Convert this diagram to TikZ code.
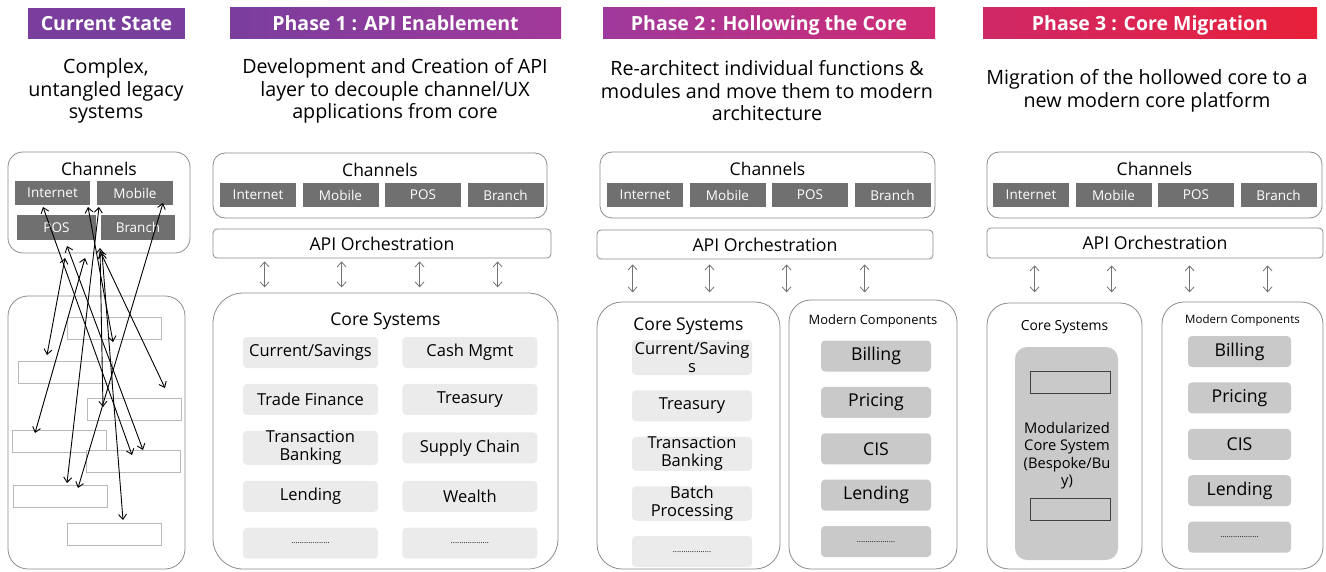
\documentclass[tikz,border=0pt]{standalone}
\usepackage{fontspec}
\setmainfont{Open Sans}
\usepackage{xcolor}
\usetikzlibrary{positioning, arrows.meta}
\definecolor{chgray}{HTML}{707070}
\definecolor{modlight}{HTML}{EBEBEB}
\definecolor{moddark}{HTML}{C9C9C9}
\definecolor{edge}{HTML}{8C8C8C}
\definecolor{purpleA}{HTML}{7A3E9D}
\definecolor{purpleB}{HTML}{A2399A}
\definecolor{magentaA}{HTML}{9E3A9D}
\definecolor{magentaB}{HTML}{D12A72}
\definecolor{redA}{HTML}{CF2866}
\definecolor{redB}{HTML}{E8203A}
\tikzstyle{phasebar} = [rectangle, text=white, font=\bfseries\fontsize{19.5}{22}\selectfont, minimum height=31pt, text height=17pt, text depth=2pt, inner sep=0pt]
\tikzstyle{blurb} = [align=center, font=\fontsize{19.7}{22.5}\selectfont, inner sep=0pt]
\tikzstyle{panel} = [rectangle, draw=edge, line width=0.8pt, rounded corners=12pt, inner sep=0pt]
\tikzstyle{chanbtn} = [rectangle, fill=chgray, text=white, font=\fontsize{13.5}{15}\selectfont, minimum width=76pt, minimum height=24pt, inner sep=0pt]

\begin{document}
\begin{tikzpicture}[
    x=1pt, y=-1pt,
    lbl/.style={font=\fontsize{17.5}{20}\selectfont, inner sep=0pt},
    smalllbl/.style={font=\fontsize{12.9}{15}\selectfont, inner sep=0pt},
    apibar/.style={rectangle, draw=edge, line width=0.8pt, rounded corners=4pt, font=\fontsize{17.7}{20}\selectfont},
    module/.style={rectangle, fill=modlight, rounded corners=4pt, minimum width=135pt, minimum height=31pt, align=center, inner sep=0pt, font=\fontsize{16.5}{18}\selectfont},
    modern/.style={rectangle, fill=moddark, rounded corners=4pt, minimum width=110pt, minimum height=31pt, align=center, inner sep=0pt, font=\fontsize{17.7}{20}\selectfont},
    legacy/.style={rectangle, draw=gray!55, fill=white, line width=1pt, minimum width=94pt, minimum height=22pt},
    tangle/.style={<->, >={Straight Barb[length=5pt,width=8pt]}, line width=0.9pt, black},
    updown/.style={<->, >={Straight Barb[length=5pt,width=9pt]}, draw=gray!90!black, line width=0.8pt}
]
    \useasboundingbox (0,0) rectangle (1326,572);

    % Phase headers
    \node[phasebar, fill=purpleA, minimum width=157pt] (hdr0) at (106.5,23.5) {Current State};
    \node[phasebar, left color=purpleA, right color=purpleB, minimum width=331pt] (hdr1) at (395.5,23.5) {Phase 1 : API Enablement};
    \node[phasebar, left color=magentaA, right color=magentaB, minimum width=332pt] (hdr2) at (769,23.5) {Phase 2 : Hollowing the Core};
    \node[phasebar, left color=redA, right color=redB, minimum width=334pt] (hdr3) at (1150,23.5) {Phase 3 : Core Migration};

    % Short description under each header
    \node[blurb] (txt0) at (106,91) {Complex,\\untangled legacy\\systems};
    \node[blurb] (txt1) at (395,91) {Development and Creation of API\\layer to decouple channel/UX\\applications from core};
    \node[blurb] (txt2) at (767,91) {Re-architect individual functions \&\\modules and move them to modern\\architecture};
    \node[blurb] (txt3) at (1147,91) {Migration of the hollowed core to a\\new modern core platform};

    % ---- Current state: tangled legacy ----
    \node[panel, rounded corners=15pt, minimum width=182pt, minimum height=101pt] (chan0) at (99,202.5) {};
    \node[lbl] at ([yshift=-17pt]chan0.north) {Channels};
    \node[chanbtn, minimum width=75pt] (inet0) at (52.5,193) {Internet};
    \node[chanbtn] (mob0) at (135,193) {Mobile};
    \node[chanbtn, minimum width=79pt, minimum height=25pt] (pos0) at (56.5,227.5) {POS};
    \node[chanbtn, minimum width=74pt, minimum height=25pt] (branch0) at (138,227.5) {Branch};

    \node[panel, rounded corners=20pt, minimum width=177pt, minimum height=273pt] (old0) at (96.5,432.5) {};
    \node[legacy] (leg1) at (114.5,328.5) {};
    \node[legacy] (leg2) at (65.5,372) {};
    \node[legacy] (leg3) at (134,409) {};
    \node[legacy] (leg4) at (59.5,441) {};
    \node[legacy] (leg5) at (133,461.5) {};
    \node[legacy] (leg6) at (60.5,496) {};
    \node[legacy] (leg7) at (114.5,534) {};

    % ends of the spaghetti links
    \coordinate (u1) at (43,207);
    \coordinate (u2) at (88,207);
    \coordinate (u3) at (99,207);
    \coordinate (u4) at (163,203);
    \coordinate (u5) at (67,246);
    \coordinate (u6) at (65,258);
    \coordinate (u7) at (85,258);
    \coordinate (u8) at (100,248);
    \coordinate (u9) at (100,251);
    \coordinate (u10) at (102,253);
    \coordinate (d1) at (132,455);
    \coordinate (d2) at (113,342);
    \coordinate (d3) at (67,483);
    \coordinate (d4) at (78,488);
    \coordinate (d5) at (143,450);
    \coordinate (d6) at (47,355);
    \coordinate (d7) at (35,433);
    \coordinate (d8) at (103,407);
    \coordinate (d9) at (165,388);
    \coordinate (d10) at (123,520);
    \foreach \i in {1,...,10}
        \draw[tangle] (u\i) -- (d\i);

    % ---- Phase 1 ----
    \node[panel, minimum width=334pt, minimum height=65pt] (chan1) at (380,185.5) {};
    \node[lbl] at ([yshift=-17pt]chan1.north) {Channels};
    \foreach \ch [count=\i from 0] in {Internet,Mobile,POS,Branch}
        \node[chanbtn] (p1ch\i) at (258+\i*82.5,195) {\ch};
    \node[apibar, minimum width=338pt, minimum height=29pt] (api1) at (382,243.5) {API Orchestration};
    \foreach \d in {52,129,207,285}
        \draw[updown] ([xshift=\d pt, yshift=-3pt]api1.south west) -- ++(0,26);

    \node[panel, rounded corners=30pt, minimum width=345pt, minimum height=276pt] (core1) at (385.5,431) {};
    \node[lbl] at ([yshift=-29pt]core1.north) {Core Systems};
    \node[module] (cs1) at (310.5,352.5) {Current/Savings};
    \node[module, below=15.5pt of cs1] (cs2) {Trade Finance};
    \node[module, below=15.5pt of cs2] (cs3) {Transaction\\Banking};
    \node[module, below=15.5pt of cs3] (cs4) {Lending};
    \node[module, below=15.5pt of cs4] (cs5) {\fontsize{8}{9}\selectfont..................};
    \node[module, right=24pt of cs1] (cs6) {Cash Mgmt};
    \node[module, right=24pt of cs2] (cs7) {Treasury};
    \node[module, right=24pt of cs3] (cs8) {Supply Chain};
    \node[module, right=24pt of cs4] (cs9) {Wealth};
    \node[module, right=24pt of cs5] (cs10) {\fontsize{8}{9}\selectfont..................};

    % ---- Phase 2 ----
    \node[panel, minimum width=335pt, minimum height=66pt] (chan2) at (767.5,185) {};
    \node[lbl] at ([yshift=-17pt]chan2.north) {Channels};
    \foreach \ch [count=\i from 0] in {Internet,Mobile,POS,Branch}
        \node[chanbtn] (p2ch\i) at (645+\i*82.5,195) {\ch};
    \node[apibar, minimum width=336pt, minimum height=29pt] (api2) at (765,244.5) {API Orchestration};
    \foreach \d in {36,113,190,268}
        \draw[updown] ([xshift=\d pt, yshift=-5pt]api2.south west) -- ++(0,28);

    \node[panel, rounded corners=25pt, minimum width=183pt, minimum height=267pt] (core2) at (688.5,435.5) {};
    \node[lbl] at ([yshift=-25pt]core2.north) {Core Systems};
    \node[module, minimum width=120pt, minimum height=35pt] (hc1) at (692,357.5) {Current/Saving\\s};
    \node[module, minimum width=120pt, below=15pt of hc1] (hc2) {Treasury};
    \node[module, minimum width=120pt, below=15pt of hc2] (hc3) {Transaction\\Banking};
    \node[module, minimum width=120pt, below=15pt of hc3] (hc4) {Batch\\Processing};
    \node[module, minimum width=120pt, below=15pt of hc4] (hc5) {\fontsize{8}{9}\selectfont..................};

    \node[panel, rounded corners=22pt, minimum width=168pt, minimum height=269pt] (new2) at (873,434.5) {};
    \node[smalllbl] at ([yshift=-22pt]new2.north) {Modern Components};
    \node[modern] (mc1) at (876,356) {Billing};
    \node[modern, below=15pt of mc1] (mc2) {Pricing};
    \node[modern, below=15pt of mc2] (mc3) {CIS};
    \node[modern, below=15pt of mc3] (mc4) {Lending};
    \node[modern, below=15pt of mc4] (mc5) {\fontsize{8}{9}\selectfont..................};

    % ---- Phase 3 ----
    \node[panel, minimum width=335pt, minimum height=66pt] (chan3) at (1154.5,185) {};
    \node[lbl] at ([yshift=-17pt]chan3.north) {Channels};
    \foreach \ch [count=\i from 0] in {Internet,Mobile,POS,Branch}
        \node[chanbtn] (p3ch\i) at (1031+\i*82.5,195) {\ch};
    \node[apibar, minimum width=336pt, minimum height=30pt] (api3) at (1155,243) {API Orchestration};
    \foreach \d in {48,125,203,281}
        \draw[updown] ([xshift=\d pt, yshift=-7pt]api3.south west) -- ++(0,27);

    \node[panel, rounded corners=22pt, minimum width=155pt, minimum height=266pt] (core3) at (1064.5,436) {};
    \node[smalllbl, font=\fontsize{13.9}{16}\selectfont] at ([yshift=-25pt]core3.north) {Core Systems};
    \node[rectangle, fill=moddark, rounded corners=12pt, minimum width=103pt, minimum height=213pt] (mod3) at (1066.5,453.5) {};
    \node[rectangle, draw=black!75, line width=1pt, minimum width=80pt, minimum height=22pt] (slot1) at (1070,382) {};
    \node[rectangle, draw=black!75, line width=1pt, minimum width=80pt, minimum height=22pt] (slot2) at (1070,509) {};
    \node[align=center, inner sep=0pt, font=\fontsize{14.7}{17.5}\selectfont] (modtxt) at (1067,455.5) {Modularized\\Core System\\(Bespoke/Bu\\y)};

    \node[panel, rounded corners=22pt, minimum width=161pt, minimum height=267pt] (new3) at (1242.5,435.5) {};
    \node[smalllbl, font=\fontsize{11.5}{14}\selectfont] at ([yshift=-19pt]new3.north) {Modern Components};
    \node[modern, minimum width=103pt] (nc1) at (1239.5,351.5) {Billing};
    \node[modern, minimum width=103pt, below=15pt of nc1] (nc2) {Pricing};
    \node[modern, minimum width=103pt, below=15pt of nc2] (nc3) {CIS};
    \node[modern, minimum width=103pt, below=15pt of nc3] (nc4) {Lending};
    \node[modern, minimum width=103pt, below=15pt of nc4] (nc5) {\fontsize{8}{9}\selectfont..................};

\end{tikzpicture}
\end{document}
